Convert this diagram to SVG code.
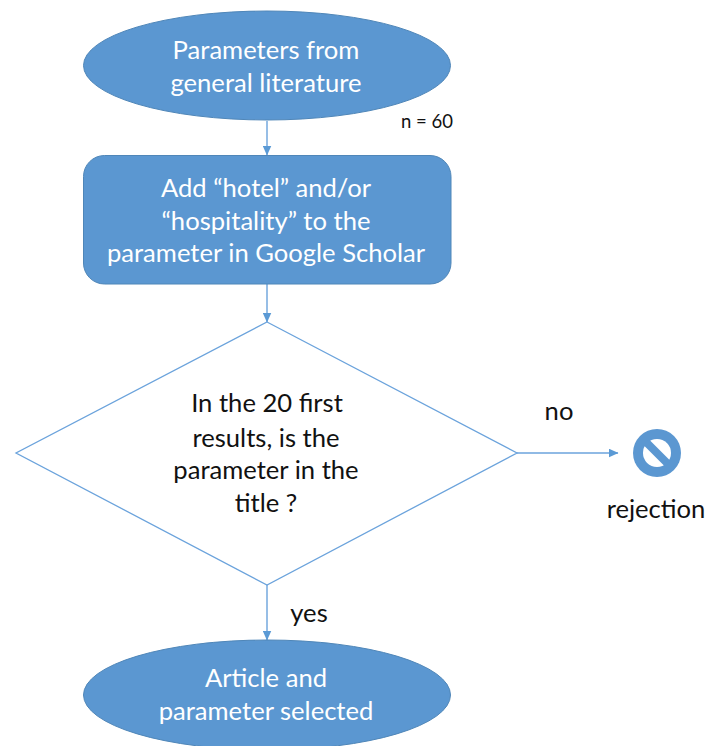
<svg xmlns="http://www.w3.org/2000/svg" width="715" height="746" viewBox="0 0 715 746">
<defs><marker id="a" markerWidth="10" markerHeight="9" refX="9.5" refY="4.5" orient="auto" markerUnits="userSpaceOnUse"><path d="M0 0L10 4.5L0 9Z" fill="#5b9ad5"/></marker></defs>
<style>
text{font-family:Lato,"Open Sans","Liberation Sans",sans-serif;text-anchor:middle;font-size:25.6px}
.w{fill:#fff}.k{fill:#111}
.s{fill:#5b97d1;stroke:#4f86b8;stroke-width:1}
.c{fill:none;stroke:#6ba3dc;stroke-width:1.4;marker-end:url(#a)}
</style>
<rect width="715" height="746" fill="#fff"/>
<g id="connectors">
<path class="c" d="M267 121V155"/>
<path class="c" d="M267 284V322"/>
<path class="c" d="M267 585V640"/>
<path class="c" d="M517 453H618"/>
</g>
<g id="start"><ellipse class="s" cx="267" cy="65.5" rx="183.500" ry="54.500"/><text class="w" x="266" y="59">Parameters from</text><text class="w" x="266" y="92">general literature</text></g>
<g id="n-label"><text class="k" x="427" y="128" style="font-size:18.500px">n = 60</text></g>
<g id="add"><rect class="s" x="83.500" y="155.500" width="367.500" height="128.500" rx="21"/><text class="w" x="266" y="197">Add “hotel” and/or</text><text class="w" x="266" y="230">“hospitality” to the</text><text class="w" x="266" y="262">parameter in Google Scholar</text></g>
<g id="decision"><path d="M267 322L517 453L267 585L16 453Z" fill="#fff" stroke="#6ba3dc" stroke-width="1.300"/><text class="k" x="267" y="412">In the 20 first</text><text class="k" x="266" y="447">results, is the</text><text class="k" x="266" y="479">parameter in the</text><text class="k" x="266" y="512">title ?</text></g>
<g id="no-label"><text class="k" x="559" y="420">no</text></g>
<g id="yes-label"><text class="k" x="309" y="622">yes</text></g>
<g id="rejection"><circle cx="657" cy="453" r="24" fill="#5b97d1"/><circle cx="657" cy="453" r="14" fill="#fff"/><path d="M646 442L668 464" stroke="#5b97d1" stroke-width="8"/><text class="k" x="656" y="518">rejection</text></g>
<g id="end"><ellipse class="s" cx="267" cy="695" rx="183.500" ry="55"/><text class="w" x="266" y="687">Article and</text><text class="w" x="266" y="720">parameter selected</text></g>
</svg>
